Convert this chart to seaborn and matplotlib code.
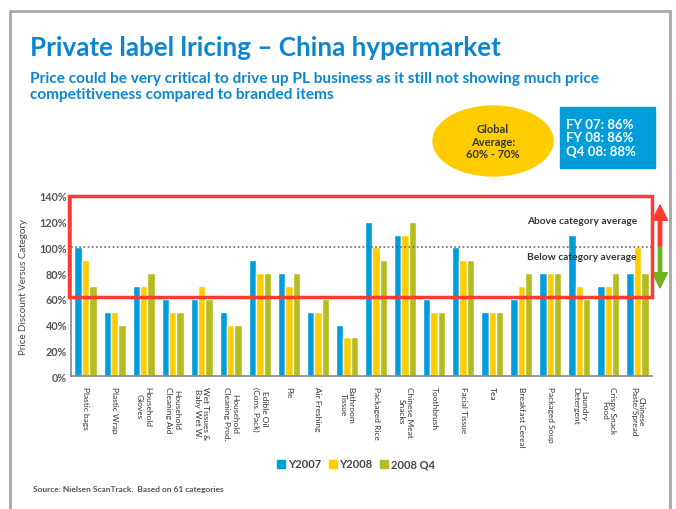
import matplotlib
matplotlib.use("Agg")
import matplotlib.pyplot as plt
import matplotlib.patches as mpatches
from matplotlib.patches import Ellipse, Rectangle, FancyArrow
import seaborn as sns
import pandas as pd

categories = ["Plastic bags", "Plastic Wrap", "Household\nGloves", "Household\nCleaning Aid",
              "Wet Tissues &\nBaby Wet W.", "Household\nCleaning Prod.", "Edible Oil\n(Cons. Pack)",
              "Pie", "Air Freshing", "Bathroom\nTissue", "Packaged Rice", "Chinese Meat\nSnacks",
              "Toothbrush", "Facial Tissue", "Tea", "Breakfast Cereal", "Packaged Soup",
              "Laundry\nDetergent", "Crispy Snack\nFood", "Chinese\nPaste/Spread"]
y2007 = [100, 50, 70, 60, 60, 50, 90, 80, 50, 40, 120, 110, 60, 100, 50, 60, 80, 110, 70, 80]
y2008 = [90, 50, 70, 50, 70, 40, 80, 70, 50, 30, 100, 110, 50, 90, 50, 70, 80, 70, 70, 100]
q4_2008 = [70, 40, 80, 50, 60, 40, 80, 80, 60, 30, 90, 120, 50, 90, 50, 80, 80, 60, 80, 80]
series_names = ["Y2007", "Y2008", "2008 Q4"]
yticks = [0, 20, 40, 60, 80, 100, 120, 140]

colors = ["#009ddb", "#ffcc00", "#b5bd1e"]
FONT = ["Lato", "DejaVu Sans"]

sns.set_theme(style="white")
plt.rcParams["font.family"] = FONT

rows = []
for s, vals in zip(series_names, [y2007, y2008, q4_2008]):
    for c, v in zip(categories, vals):
        rows.append({"cat": c, "series": s, "value": v})
df = pd.DataFrame(rows)

fig = plt.figure(figsize=(6.76, 5.10), dpi=100)
ax = fig.add_axes([71/676, 1-377/510, (652-71)/676, (377-197)/510])

sns.barplot(data=df, x="cat", y="value", hue="series", palette=colors, width=0.76,
            gap=0, saturation=1, ax=ax, legend=False, errorbar=None)
ax.set_xlim(-0.5, len(categories)-0.5)
ax.set_ylim(0, 140)
ax.set_yticks(yticks)
ax.set_yticklabels([f"{t}%" for t in yticks], fontsize=7.8, color="#555555", fontweight="bold")
ax.set_xticks(range(len(categories)))
ax.set_xticklabels(categories, rotation=270, fontsize=6, color="#333333",
                   ha="center", va="top", multialignment="center")
ax.tick_params(axis="x", length=3, width=0.8, color="#777777", pad=4)
ax.tick_params(axis="y", length=0, pad=3)
ax.set_xlabel("")
ax.set_ylabel("Price Discount Versus Category", fontsize=7, color="#444444", labelpad=8)
for sp in ["top", "right"]:
    ax.spines[sp].set_visible(False)
for sp in ["left", "bottom"]:
    ax.spines[sp].set_color("#888888")
    ax.spines[sp].set_linewidth(1.2)
ax.axhline(100, color="#666666", linestyle=(0, (1, 1.5)), linewidth=1.2, zorder=3)

# red highlight box (figure pixel coordinates)
def fx(x): return x/676
def fy(y): return 1-y/510
fig.patches.append(Rectangle((fx(69), fy(298)), (652-69)/676, (298-197)/510,
                             transform=fig.transFigure, fill=False, edgecolor="#ff3b30",
                             linewidth=2.5, zorder=5))
fig.text(fx(582), fy(221), "Above category average", fontsize=7.3, color="#333333",
         ha="center", va="center", fontweight="bold")
fig.text(fx(582), fy(257), "Below category average", fontsize=7.3, color="#333333",
         ha="center", va="center", fontweight="bold")
# arrows
fig.patches.append(FancyArrow(fx(660), fy(248), 0, (248-206)/510, width=0.005,
                              head_width=0.022, head_length=0.03, length_includes_head=True,
                              transform=fig.transFigure, color="#ff3b30"))
fig.patches.append(FancyArrow(fx(660), fy(248), 0, -(289-248)/510, width=0.005,
                              head_width=0.022, head_length=0.03, length_includes_head=True,
                              transform=fig.transFigure, color="#6fb41e"))

# slide border
fig.patches.append(Rectangle((fx(10), fy(530)), (670-10)/676, (530-12)/510,
                             transform=fig.transFigure, fill=False, edgecolor="#a8a8a8",
                             linewidth=2, clip_on=False))

# titles
blue = "#0a87d0"
fig.text(fx(30), fy(48), "Private label lricing \u2013 China hypermarket", fontsize=18.7,
         color=blue, fontweight="bold", ha="left", va="center")
fig.text(fx(30), fy(87), "Price could be very critical to drive up PL business as it still not showing much price\ncompetitiveness compared to branded items",
         fontsize=11.1, color=blue, fontweight="bold", ha="left", va="center", linespacing=1.15)

# global average ellipse
fig.patches.append(Ellipse((fx(493), fy(142)), 120/676, 70/510, transform=fig.transFigure,
                           color="#ffcc00"))
fig.text(fx(493), fy(142), "Global\nAverage:\n60% - 70%", fontsize=8, color="#333333",
         fontweight="bold", ha="center", va="center", linespacing=1.2)

# blue box
fig.patches.append(Rectangle((fx(560), fy(169)), (655-560)/676, (169-108)/510,
                             transform=fig.transFigure, color="#009ddb"))
fig.text(fx(566), fy(138.5), "FY 07: 86%\nFY 08: 86%\nQ4 08: 88%", fontsize=9.5, color="white",
         fontweight="bold", ha="left", va="center", linespacing=1.15)

# legend
handles = [mpatches.Patch(color=c, label=s) for c, s in zip(colors, series_names)]
leg = fig.legend(handles=handles, loc="center", bbox_to_anchor=(fx(356), fy(465)), ncol=3,
                 frameon=False, fontsize=8, handlelength=0.7, handleheight=0.7,
                 handletextpad=0.25, columnspacing=0.7)
for t in leg.get_texts():
    t.set_color("#444444")
    t.set_fontweight("bold")

fig.text(fx(33), fy(490), "Source: Nielsen ScanTrack.  Based on 61 categories", fontsize=6,
         color="#555555", ha="left", va="center", fontweight="bold")

fig.savefig("out.png", dpi=100)
